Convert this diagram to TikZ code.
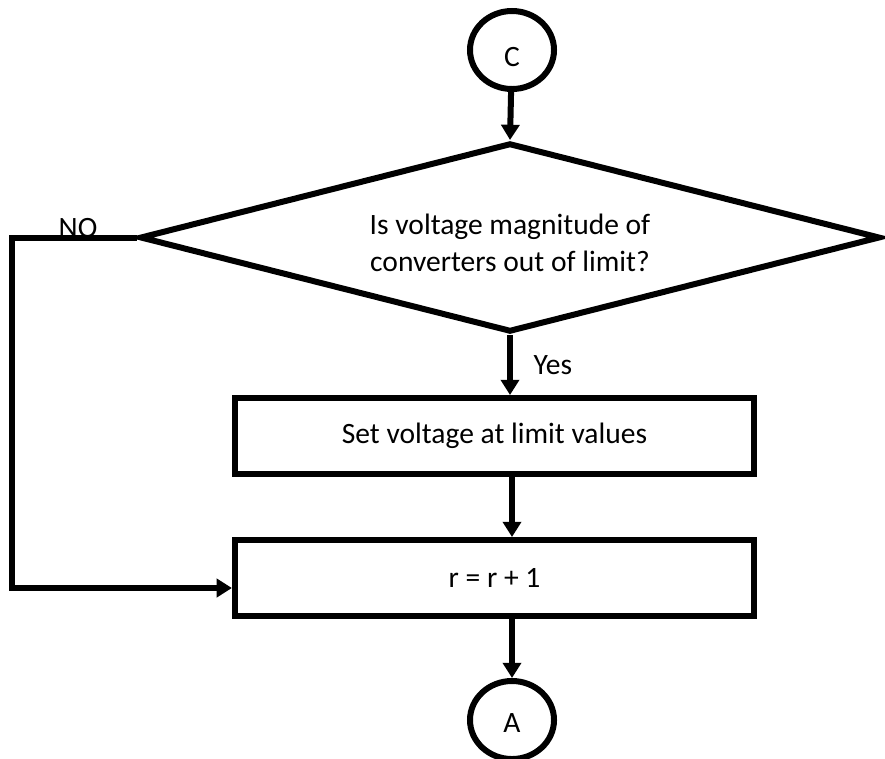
\documentclass[tikz,border=0pt]{standalone}
\usepackage{fontspec}
\setmainfont{Carlito}
\usetikzlibrary{arrows.meta,positioning,shapes.geometric}
\newcommand{\lowered}[2]{\raisebox{-#1}[\height][\depth]{#2}}
\tikzset{
    connector/.style={ellipse,draw,line width=0.15cm,inner sep=0pt,minimum width=2.1cm,minimum height=1.95cm},
    decision/.style={diamond,draw,line width=0.15cm,aspect=3.92,align=center,inner sep=0pt,minimum width=18.5cm,minimum height=4.725cm},
    process/.style={rectangle,draw,line width=0.15cm,align=center,minimum width=12.975cm,minimum height=1.9cm},
    flowline/.style={-{Triangle[length=0.38cm,width=0.45cm]},line width=0.15cm}
}
\begin{document}
\begin{tikzpicture}[x=0.025cm,y=-0.025cm,font=\fontsize{21pt}{26pt}\selectfont]
    \useasboundingbox (0,0) rectangle (885,758);
    \node[connector] (c) at (512,50) {\lowered{0.17cm}{C}};
    \node[decision] (chk) at (510,237.5) {\lowered{0.2cm}{\begin{tabular}{@{}c@{}}Is voltage magnitude of\\converters out of limit?\end{tabular}}};
    \node[process] (setv) at (494.5,436) {Set voltage at limit values};
    \node[process] (incr) at (494.5,578) {r = r + 1};
    \node[connector] (a) at (512,720) {\lowered{0.08cm}{A}};
    \coordinate (loop) at (12,588);
    \draw[flowline] (c) -- (chk.north);
    \draw[flowline] (chk.south) -- node[right=0.4cm]{Yes} (chk.south |- setv.north);
    \draw[flowline] (c |- setv.south) -- (c |- incr.north);
    \draw[flowline] (c |- incr.south) -- (a);
    \draw[flowline,line join=miter] (chk.west) -| (loop) -- (incr.west |- loop);
    \node[anchor=base,inner sep=0pt] (no) at (78,237) {NO};
\end{tikzpicture}
\end{document}
